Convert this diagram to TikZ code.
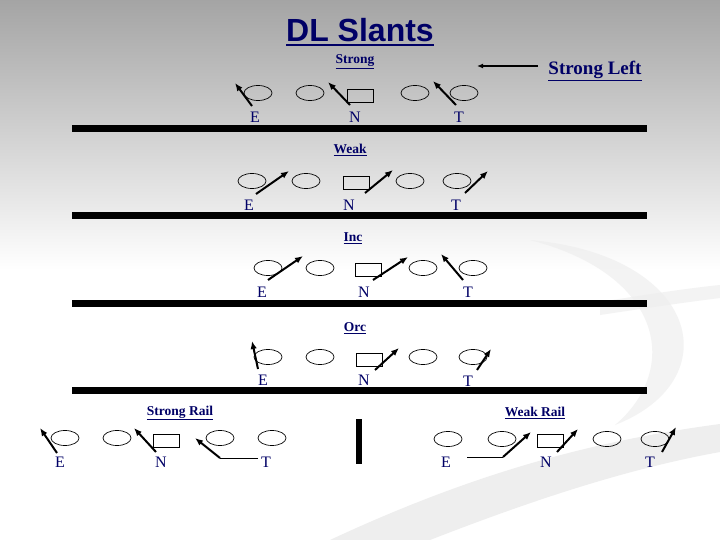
\documentclass[tikz,border=0pt]{standalone}
\usepackage{fontspec}
\setmainfont{Liberation Serif}
\newfontfamily\slidefont{Liberation Sans}
\usetikzlibrary{arrows.meta,shapes.geometric}
\definecolor{navy}{RGB}{0,0,102}
\definecolor{slidegray}{RGB}{134,134,134}
\definecolor{swoosh}{RGB}{238,238,238}

% one slanting rush arrow between two named points
\newcommand{\slant}[3]{%
  \coordinate (#1-a) at (#2);
  \coordinate (#1-b) at (#3);
  \draw[rush] (#1-a) -- (#1-b);}

\begin{document}
\begin{tikzpicture}[
  x=1pt, y=-1pt,
  dl/.style={draw, ellipse, minimum width=28pt, minimum height=15pt, inner sep=0pt, line width=0.7pt},
  ctr/.style={draw, rectangle, minimum width=26pt, minimum height=13pt, inner sep=0pt, line width=0.7pt},
  letter/.style={text=navy, font=\fontsize{16}{16}\selectfont, inner sep=0pt},
  call/.style={text=navy, font=\bfseries\fontsize{13.5}{14}\selectfont, inner sep=0pt},
  los/.style={line width=7pt},
  rush/.style={line width=2pt, -{Latex[length=8pt,width=6.5pt]}},
]

% Background
\useasboundingbox (0,0) rectangle (720,540);
\begin{scope}
  \clip (0,0) rectangle (720,540);
  \fill[white] (0,0) rectangle (720,540);
  \shade[top color=slidegray, bottom color=white] (0,-90) rectangle (720,270);
  \fill[swoosh] (330,540) .. controls (480,470) and (600,440) .. (720,424)
    -- (720,452) .. controls (620,470) and (520,505) .. (430,540) -- cycle;
  \fill[swoosh, opacity=0.7] (530,240) .. controls (700,255) and (730,380) .. (615,425)
    .. controls (680,370) and (665,275) .. (530,240) -- cycle;
  \fill[swoosh, opacity=0.7] (600,302) .. controls (650,294) and (690,288) .. (720,285)
    -- (720,298) .. controls (680,303) and (640,309) .. (600,315) -- cycle;
\end{scope}

% Title
\node[text=navy, font=\slidefont\bfseries\fontsize{32}{32}\selectfont, inner sep=0pt, anchor=base] (title) at (360,42) {DL Slants};
\draw[navy, line width=2.5pt] ([yshift=-3pt]title.base west) -- ([yshift=-3pt]title.base east);

% Lines of scrimmage
\foreach \ly [count=\i] in {129,216,303,390}
  \draw[los] (72,\ly) coordinate (los\i-w) -- (647,\ly) coordinate (los\i-e);
\draw[line width=6pt] (359,419) coordinate (gap-t) -- (359,464) coordinate (gap-b);

% ========== Strong ==========
\node[call] (strong) at (355,62) {\underline{Strong}};
\node[call, font=\bfseries\fontsize{19}{19}\selectfont] (strongleft) at (595,71) {\underline{Strong Left}};
\coordinate (sl-a) at (538,66);
\coordinate (sl-b) at (477,66);
\draw[line width=1.4pt, -{Latex[length=6pt,width=5pt]}] (sl-a) -- (sl-b);
\node[dl] (s-p1) at (258,93) {};
\node[dl] (s-p2) at (310,93) {};
\node[ctr] (s-c) at (360,96) {};
\node[dl] (s-p3) at (415,93) {};
\node[dl] (s-p4) at (464,93) {};
\node[letter] (s-e) at (255,117) {E};
\node[letter] (s-n) at (355,117) {N};
\node[letter] (s-t) at (459,117) {T};
\slant{s-re}{252,106}{235,83}
\slant{s-rn}{350,105}{328,82}
\slant{s-rt}{456,105}{433,81}

% ========== Weak ==========
\node[call] (weak) at (350,150) {\underline{Weak}};
\node[dl] (w-p1) at (252,181) {};
\node[dl] (w-p2) at (306,181) {};
\node[ctr] (w-c) at (356,183) {};
\node[dl] (w-p3) at (410,181) {};
\node[dl] (w-p4) at (457,181) {};
\node[letter] (w-e) at (249,205) {E};
\node[letter] (w-n) at (349,205) {N};
\node[letter] (w-t) at (456,205) {T};
\slant{w-re}{256,194}{289,171}
\slant{w-rn}{365,193}{393,170}
\slant{w-rt}{465,193}{488,171}

% ========== Inc ==========
\node[call] (inc) at (353,238) {\underline{Inc}};
\node[dl] (i-p1) at (268,268) {};
\node[dl] (i-p2) at (320,268) {};
\node[ctr] (i-c) at (368,270) {};
\node[dl] (i-p3) at (423,268) {};
\node[dl] (i-p4) at (473,268) {};
\node[letter] (i-e) at (262,292) {E};
\node[letter] (i-n) at (364,292) {N};
\node[letter] (i-t) at (468,292) {T};
\slant{i-re}{268,280}{303,256}
\slant{i-rn}{373,280}{408,257}
\slant{i-rt}{463,280}{441,254}

% ========== Orc ==========
\node[call] (orc) at (355,328) {\underline{Orc}};
\node[dl] (o-p1) at (268,357) {};
\node[dl] (o-p2) at (320,357) {};
\node[ctr] (o-c) at (369,360) {};
\node[dl] (o-p3) at (423,357) {};
\node[dl] (o-p4) at (473,357) {};
\node[letter] (o-e) at (263,380) {E};
\node[letter] (o-n) at (364,380) {N};
\node[letter] (o-t) at (468,381) {T};
\slant{o-re}{258,369}{252,341}
\slant{o-rn}{375,370}{399,348}
\slant{o-rt}{477,370}{491,349}

% ========== Strong Rail ==========
\node[call] (srail) at (180,413) {\underline{Strong Rail}};
\node[dl] (sr-p1) at (65,438) {};
\node[dl] (sr-p2) at (117,438) {};
\node[ctr] (sr-c) at (166,441) {};
\node[dl] (sr-p3) at (220,438) {};
\node[dl] (sr-p4) at (272,438) {};
\node[letter] (sr-e) at (60,462) {E};
\node[letter] (sr-n) at (161,462) {N};
\node[letter] (sr-t) at (266,462) {T};
\slant{sr-re}{57,453}{40,428}
\slant{sr-rn}{156,452}{134,428}
\coordinate (sr-rt-a) at (258,458);
\coordinate (sr-rt-k) at (220,458);
\coordinate (sr-rt-b) at (195,438);
\draw[line width=1pt] (sr-rt-a) -- (sr-rt-k);
\draw[rush] (sr-rt-k) -- (sr-rt-b);

% ========== Weak Rail ==========
\node[call] (wrail) at (535,413) {\underline{Weak Rail}};
\node[dl] (wr-p1) at (448,439) {};
\node[dl] (wr-p2) at (502,439) {};
\node[ctr] (wr-c) at (550,441) {};
\node[dl] (wr-p3) at (607,439) {};
\node[dl] (wr-p4) at (655,439) {};
\node[letter] (wr-e) at (446,462) {E};
\node[letter] (wr-n) at (546,462) {N};
\node[letter] (wr-t) at (650,462) {T};
\coordinate (wr-re-a) at (467,457);
\coordinate (wr-re-k) at (503,457);
\coordinate (wr-re-b) at (531,432);
\draw[line width=1pt] (wr-re-a) -- (wr-re-k);
\draw[rush] (wr-re-k) -- (wr-re-b);
\slant{wr-rn}{557,452}{578,429}
\slant{wr-rt}{662,452}{676,427}

\end{tikzpicture}
\end{document}
